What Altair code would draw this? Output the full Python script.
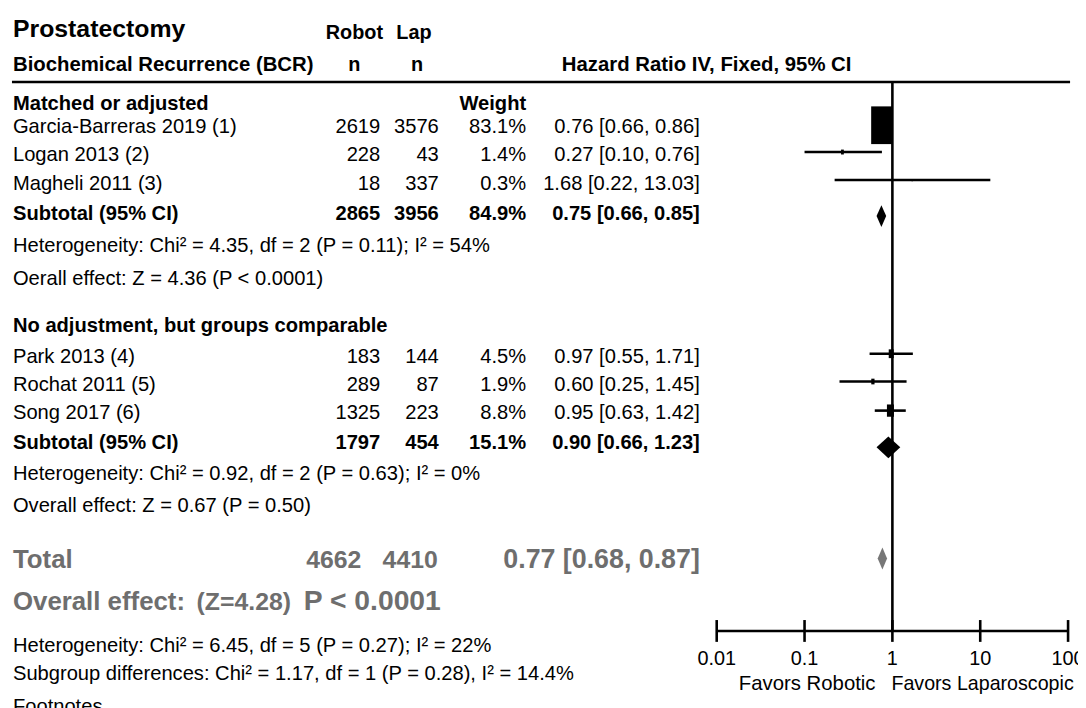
import altair as alt
import pandas as pd

# ---------------- data ----------------
studies = ["Garcia-Barreras 2019 (1)", "Logan 2013 (2)", "Magheli 2011 (3)",
           "Park 2013 (4)", "Rochat 2011 (5)", "Song 2017 (6)"]
robot_n = [2619, 228, 18, 183, 289, 1325]
lap_n = [3576, 43, 337, 144, 87, 223]
weight = [83.1, 1.4, 0.3, 4.5, 1.9, 8.8]
hr = [0.76, 0.27, 1.68, 0.97, 0.60, 0.95]
ci_lo = [0.66, 0.10, 0.22, 0.55, 0.25, 0.63]
ci_hi = [0.86, 0.76, 13.03, 1.71, 1.45, 1.42]

group_names = ["Matched or adjusted", "No adjustment, but groups comparable"]
sub_robot = [2865, 1797]
sub_lap = [3956, 454]
sub_weight = [84.9, 15.1]
sub_hr = [0.75, 0.90]
sub_lo = [0.66, 0.66]
sub_hi = [0.85, 1.23]
het_text = ["Heterogeneity: Chi² = 4.35, df = 2 (P = 0.11); I² = 54%",
            "Heterogeneity: Chi² = 0.92, df = 2 (P = 0.63); I² = 0%"]
eff_text = ["Oerall effect: Z = 4.36 (P < 0.0001)",
            "Overall effect: Z = 0.67 (P = 0.50)"]

tot_robot, tot_lap = 4662, 4410
tot_hr, tot_lo, tot_hi = 0.77, 0.68, 0.87

tick_vals = [0.01, 0.1, 1, 10, 100]
tick_labels = ["0.01", "0.1", "1", "10", "100"]

# ---------------- layout (page pixels) ----------------
OX, OY = 8, 8
def px(v): return v - OX
def py(v): return v - OY

study_base = [131, 160, 189, 363, 391, 419]
study_line = [123.5, 150.5, 178.7, 353.7, 381.7, 411]
group_base = [108, 332]
sub_base = [219, 450]
sub_center = [215, 448]
het_base = [251, 481]
eff_base = [284, 513]
DIA_H = 22
X_LEFT, X_ROBOT, X_LAP, X_W, X_HR = 13, 383, 442, 530, 705
AX_L, AX_R, AX_Y = 722, 1076, 633

SANS = "Liberation Sans, Arial, Helvetica, sans-serif"
GRAY = "#6e6e6e"
FS = 20.3
STYLES = {
    "title": dict(fontSize=25, fontWeight="bold", color="black", align="left"),
    "hdrL": dict(fontSize=20.5, fontWeight="bold", color="black", align="left"),
    "hdrC": dict(fontSize=20, fontWeight="bold", color="black", align="center"),
    "boldL": dict(fontSize=FS, fontWeight="bold", color="black", align="left"),
    "boldR": dict(fontSize=FS, fontWeight="bold", color="black", align="right"),
    "regL": dict(fontSize=FS, fontWeight="normal", color="black", align="left"),
    "regR": dict(fontSize=FS, fontWeight="normal", color="black", align="right"),
    "favL": dict(fontSize=19.8, fontWeight="normal", color="black", align="left"),
    "favR": dict(fontSize=20.5, fontWeight="normal", color="black", align="right"),
    "totL": dict(fontSize=26, fontWeight="bold", color=GRAY, align="left"),
    "totZ": dict(fontSize=25, fontWeight="bold", color=GRAY, align="left"),
    "totP": dict(fontSize=28.5, fontWeight="bold", color=GRAY, align="left"),
    "totNumR": dict(fontSize=25, fontWeight="bold", color=GRAY, align="right"),
    "totR": dict(fontSize=27, fontWeight="bold", color=GRAY, align="right"),
}

def fmt_ci(e, l, h):
    return f"{e:.2f} [{l:.2f}, {h:.2f}]"

items = []
def add(t, x, y, s):
    items.append(dict(t=t, x=px(x), y=py(y), s=s))

add("Prostatectomy", X_LEFT, 35, "title")
add("Robot", 357, 37, "hdrC")
add("Lap", 417, 37, "hdrC")
add("Biochemical Recurrence (BCR)", X_LEFT, 69, "hdrL")
add("n", 357, 69, "hdrC")
add("n", 420, 69, "hdrC")
add("Hazard Ratio IV, Fixed, 95% CI", 566, 69, "hdrL")
add("Weight", X_W, group_base[0], "boldR")

for g in range(2):
    add(group_names[g], X_LEFT, group_base[g], "boldL")
    for i in range(3):
        k = g * 3 + i
        yb = study_base[k]
        add(studies[k], X_LEFT, yb, "regL")
        add(str(robot_n[k]), X_ROBOT, yb, "regR")
        add(str(lap_n[k]), X_LAP, yb, "regR")
        add(f"{weight[k]:.1f}%", X_W, yb, "regR")
        add(fmt_ci(hr[k], ci_lo[k], ci_hi[k]), X_HR, yb, "regR")
    yb = sub_base[g]
    add("Subtotal (95% CI)", X_LEFT, yb, "boldL")
    add(str(sub_robot[g]), X_ROBOT, yb, "boldR")
    add(str(sub_lap[g]), X_LAP, yb, "boldR")
    add(f"{sub_weight[g]:.1f}%", X_W, yb, "boldR")
    add(fmt_ci(sub_hr[g], sub_lo[g], sub_hi[g]), X_HR, yb, "boldR")
    add(het_text[g], X_LEFT, het_base[g], "regL")
    add(eff_text[g], X_LEFT, eff_base[g], "regL")

add("Total", X_LEFT, 570, "totL")
add(str(tot_robot), 364, 570, "totNumR")
add(str(tot_lap), 441, 570, "totNumR")
add(fmt_ci(tot_hr, tot_lo, tot_hi), X_HR, 570, "totR")
add("Overall effect:", X_LEFT, 612, "totL")
add("(Z=4.28)", 198, 612, "totZ")
add("P < 0.0001", 306, 612, "totP")
add("Heterogeneity: Chi² = 6.45, df = 5 (P = 0.27); I² = 22%", X_LEFT, 654, "regL")
add("Subgroup differences: Chi² = 1.17, df = 1 (P = 0.28), I² = 14.4%", X_LEFT, 682, "regL")
add("Footnotes", X_LEFT, 716, "regL")
add("Favors Robotic", 882, 692, "favR")
add("Favors Laparoscopic", 898, 692, "favL")

items_df = pd.DataFrame(items)

layers = []
for s, props in STYLES.items():
    sub = items_df[items_df.s == s]
    if len(sub) == 0:
        continue
    layers.append(
        alt.Chart(sub).mark_text(baseline="alphabetic", font=SANS, **props).encode(
            x=alt.X("x:Q", scale=None, axis=None),
            y=alt.Y("y:Q", scale=None, axis=None),
            text="t:N",
        )
    )

XS = alt.Scale(type="log", domain=[0.01, 100], range=[px(AX_L), px(AX_R)])
LW = 2.6

# header underline
layers.append(alt.Chart(pd.DataFrame({"a": [0]})).mark_rule(color="black", strokeWidth=LW).encode(
    x=alt.value(px(12)), x2=alt.value(px(1078)), y=alt.value(py(80))))

# line of no effect
layers.append(alt.Chart(pd.DataFrame({"v": [1]})).mark_rule(color="black", strokeWidth=LW).encode(
    x=alt.X("v:Q", scale=XS, axis=None), y=alt.value(py(80)), y2=alt.value(py(AX_Y))))

# axis line
layers.append(alt.Chart(pd.DataFrame({"lo": [tick_vals[0]], "hi": [tick_vals[-1]]})).mark_rule(
    color="black", strokeWidth=LW).encode(
    x=alt.X("lo:Q", scale=XS, axis=None), x2="hi:Q", y=alt.value(py(AX_Y))))

ticks_df = pd.DataFrame({"v": tick_vals, "lab": tick_labels})
layers.append(alt.Chart(ticks_df).mark_rule(color="black", strokeWidth=LW).encode(
    x=alt.X("v:Q", scale=XS, axis=None), y=alt.value(py(AX_Y - 11)), y2=alt.value(py(AX_Y + 11))))
layers.append(alt.Chart(ticks_df).mark_text(baseline="alphabetic", align="center", font=SANS,
                                             fontSize=20, color="black").encode(
    x=alt.X("v:Q", scale=XS, axis=None), y=alt.value(py(667)), text="lab:N"))

# study CIs and boxes
st_df = pd.DataFrame({"hr": hr, "lo": ci_lo, "hi": ci_hi, "w": weight,
                      "y": [py(v) for v in study_line]})
layers.append(alt.Chart(st_df).mark_rule(color="black", strokeWidth=LW).encode(
    x=alt.X("lo:Q", scale=XS, axis=None), x2="hi:Q",
    y=alt.Y("y:Q", scale=None, axis=None)))
layers.append(alt.Chart(st_df).mark_point(
    shape="M-0.57,-1H0.57V1H-0.57Z", filled=True, color="black", opacity=1, strokeWidth=0).encode(
    x=alt.X("hr:Q", scale=XS, axis=None),
    y=alt.Y("y:Q", scale=None, axis=None),
    size=alt.Size("w:Q", scale=alt.Scale(domain=[0, 83.1], range=[0, 1444]), legend=None)))

# diamonds
dia = []
dlist = [(sub_hr[0], sub_lo[0], sub_hi[0], sub_center[0], "black", "s1"),
         (sub_hr[1], sub_lo[1], sub_hi[1], sub_center[1], "black", "s2"),
         (tot_hr, tot_lo, tot_hi, 560, "#777777", "tot")]
for e, l, h, c, col, name in dlist:
    dia.append(dict(id=name, v=l, top=py(c), bot=py(c), col=col))
    dia.append(dict(id=name, v=e, top=py(c - DIA_H / 2), bot=py(c + DIA_H / 2), col=col))
    dia.append(dict(id=name, v=h, top=py(c), bot=py(c), col=col))
dia_df = pd.DataFrame(dia)
layers.append(alt.Chart(dia_df).mark_area(interpolate="linear", opacity=1).encode(
    x=alt.X("v:Q", scale=XS, axis=None),
    y=alt.Y("top:Q", scale=None, axis=None),
    y2="bot:Q",
    detail="id:N",
    color=alt.Color("col:N", scale=None, legend=None)))

chart = alt.layer(*layers).resolve_scale(
    x="independent", y="independent", size="independent", color="independent"
).properties(width=1078, height=700, padding=0, autosize="none").configure_view(strokeWidth=0)

chart.save("out.html", embed_options={"renderer": "svg", "actions": False})
